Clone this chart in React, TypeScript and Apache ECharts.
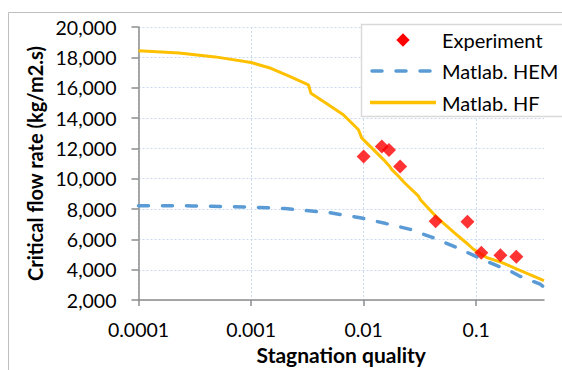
import React, { useEffect, useRef } from "react";
import * as echarts from "echarts";

const xTickValues = [0.0001, 0.001, 0.01, 0.1];
const xTickLabels = ["0.0001", "0.001", "0.01", "0.1"];

const expX = [0.01, 0.0145, 0.0168, 0.0211, 0.0436, 0.0836, 0.111, 0.164, 0.227];
const expY = [11460, 12120, 11900, 10810, 7190, 7160, 5125, 4950, 4865];

const hfX = [0.0001, 0.00023, 0.00048, 0.001, 0.0015, 0.0022, 0.00323, 0.0034, 0.0044, 0.0066, 0.009, 0.0096, 0.0112, 0.015, 0.017, 0.0178, 0.0197, 0.0233, 0.0307, 0.0318, 0.0437, 0.0637, 0.0845, 0.0944, 0.1, 0.1245, 0.17, 0.23, 0.4];
const hfY = [18430, 18280, 18030, 17660, 17280, 16740, 16190, 15640, 15090, 14220, 13230, 12690, 12200, 11260, 10820, 10600, 10280, 9700, 8850, 8630, 7520, 6450, 5680, 5350, 5230, 4800, 4470, 4040, 3290];

const hemX = [0.0001, 0.0003, 0.001, 0.002, 0.003, 0.005, 0.0093, 0.0155, 0.026, 0.045, 0.067, 0.094, 0.115, 0.155, 0.2, 0.24, 0.31, 0.37, 0.4];
const hemY = [8220, 8210, 8130, 8030, 7910, 7760, 7430, 7060, 6660, 6010, 5460, 4960, 4650, 4250, 3920, 3600, 3270, 3050, 2850];

const seriesNames = ["Experiment", "Matlab. HEM", "Matlab. HF"];

const FONT = "Lato";
const AXIS_GRAY = "#8c8c8c";
const GRID_BLUE = "#C9DAF0";
const RED = "#FF0000";
const BLUE = "#5B9BD5";
const GOLD = "#FFC000";

export default function App() {
  const ref = useRef<HTMLDivElement>(null);
  useEffect(() => {
    if (!ref.current) return;
    const chart = echarts.init(ref.current, null, { renderer: "svg" });
    const zip = (xs: number[], ys: number[]) => xs.map((x, i) => [x, ys[i]]);
    const lx0 = 370, lx1 = 436, ltx = 442;
    const rows = [40, 71, 102.5];
    const d = 6.7;
    const option: any = {
      animation: false,
      backgroundColor: "#ffffff",
      textStyle: { fontFamily: FONT },
      grid: { left: 138.5, right: 18, top: 27, bottom: 69 },
      graphic: [
        {
          type: "rect",
          z: 0,
          silent: true,
          shape: { x: 8.5, y: 12.5, width: 600, height: 400 },
          style: { fill: "none", stroke: "#BFBFBF", lineWidth: 1 },
        },
        {
          type: "rect",
          z: 10,
          silent: true,
          shape: { x: 361.5, y: 24.5, width: 250, height: 92 },
          style: { fill: "#ffffff", stroke: "#D9D9D9", lineWidth: 1.5 },
        },
        {
          type: "polygon",
          z: 11,
          silent: true,
          shape: { points: [[(lx0 + lx1) / 2, rows[0] - d], [(lx0 + lx1) / 2 + d, rows[0]], [(lx0 + lx1) / 2, rows[0] + d], [(lx0 + lx1) / 2 - d, rows[0]]] },
          style: { fill: RED },
        },
        {
          type: "line",
          z: 11,
          silent: true,
          shape: { x1: lx0 + 2, y1: rows[1], x2: lx1 - 2, y2: rows[1] },
          style: { stroke: BLUE, lineWidth: 3.5, lineDash: [10, 14], lineCap: "round" },
        },
        {
          type: "line",
          z: 11,
          silent: true,
          shape: { x1: lx0, y1: rows[2], x2: lx1, y2: rows[2] },
          style: { stroke: GOLD, lineWidth: 3.5 },
        },
        ...seriesNames.map((n, i) => ({
          type: "text",
          z: 11,
          silent: true,
          x: ltx,
          y: rows[i],
          style: { text: n, fontFamily: FONT, fontSize: 20, fill: "#000", verticalAlign: "middle", align: "left" },
        })),
      ],
      xAxis: {
        type: "log",
        logBase: 10,
        min: 0.0001,
        max: 0.4,
        name: "Stagnation quality",
        nameLocation: "middle",
        nameGap: 43,
        nameTextStyle: { fontFamily: FONT, fontWeight: "bold", fontSize: 21, color: "#000" },
        axisLine: { show: true, lineStyle: { color: AXIS_GRAY, width: 1.5 } },
        axisTick: { show: true, length: 6, customValues: xTickValues, lineStyle: { color: AXIS_GRAY, width: 1.5 } },
        axisLabel: {
          customValues: xTickValues,
          fontFamily: FONT,
          fontSize: 19.5,
          color: "#000",
          margin: 19,
          formatter: (v: number) => {
            const i = xTickValues.findIndex((t) => Math.abs(Math.log10(t) - Math.log10(v)) < 1e-6);
            return i >= 0 ? xTickLabels[i] : "";
          },
        },
        splitLine: { show: true, lineStyle: { color: GRID_BLUE, type: [2, 2], width: 1 } },
        minorTick: { show: false },
        minorSplitLine: { show: false },
      },
      yAxis: {
        type: "value",
        min: 2000,
        max: 20000,
        interval: 2000,
        name: "Critical flow rate (kg/m2.s)",
        nameLocation: "middle",
        nameGap: 89,
        nameRotate: 90,
        nameTextStyle: { fontFamily: FONT, fontWeight: "bold", fontSize: 20, color: "#000" },
        axisLine: { show: true, lineStyle: { color: AXIS_GRAY, width: 1.5 } },
        axisTick: { show: true, length: 7, lineStyle: { color: AXIS_GRAY, width: 1.5 } },
        axisLabel: {
          fontFamily: FONT,
          fontSize: 19.5,
          color: "#000",
          margin: 22,
          formatter: (v: number) => v.toLocaleString("en-US"),
        },
        splitLine: { show: true, lineStyle: { color: GRID_BLUE, type: [2, 2], width: 1 } },
      },
      series: [
        {
          name: seriesNames[0],
          type: "scatter",
          symbol: "diamond",
          symbolSize: 14,
          itemStyle: { color: RED },
          z: 5,
          data: zip(expX, expY),
        },
        {
          name: seriesNames[1],
          type: "line",
          symbol: "none",
          showSymbol: false,
          color: BLUE,
          lineStyle: { color: BLUE, width: 3.5, type: [10, 14], cap: "round" },
          z: 3,
          data: zip(hemX, hemY),
        },
        {
          name: seriesNames[2],
          type: "line",
          symbol: "none",
          showSymbol: false,
          color: GOLD,
          lineStyle: { color: GOLD, width: 3 },
          z: 4,
          data: zip(hfX, hfY),
        },
      ],
    };
    chart.setOption(option);
    return () => chart.dispose();
  }, []);
  return (
    <div
      ref={ref}
      style={{ position: "fixed", left: 0, top: 0, width: 562, height: 370, background: "#fff" }}
    />
  );
}
